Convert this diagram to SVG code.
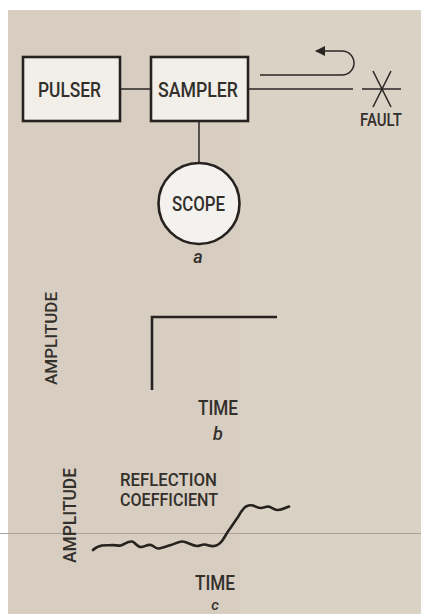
<svg xmlns="http://www.w3.org/2000/svg" width="421" height="614" viewBox="0 0 421 614">
<style>
  .t { font-family: Roboto, "Liberation Sans", sans-serif; font-weight: 500; fill: #33302c; }
  .box { fill: #f2efe9; stroke: #26221f; stroke-width: 2.6; }
  .ln { fill: none; stroke: #2a2623; stroke-width: 1.5; }
  .thick { fill: none; stroke: #26221f; stroke-width: 2.6; }
  .it { font-family: Roboto, "Liberation Sans", sans-serif; font-weight: 500; font-style: italic; fill: #33302c; }
</style>
<defs>
  <marker id="ah" viewBox="0 0 10 10" refX="9" refY="5" markerWidth="10" markerHeight="10" markerUnits="userSpaceOnUse" orient="auto">
    <path d="M0,0 L10,5 L0,10 Z" fill="#2a2623"/>
  </marker>
</defs>
<rect x="0" y="0" width="421" height="614" fill="#ffffff"/>
<rect x="8" y="10" width="413" height="604" fill="#d7cdc0"/>
<rect x="240" y="10" width="181" height="604" fill="#dbd2c6"/>
<line x1="0" y1="533.5" x2="421" y2="533.5" stroke="#a9a298" stroke-width="1.2"/>

<g id="connectors">
  <line class="ln" x1="120" y1="89" x2="151" y2="89"/>
  <line class="ln" x1="248" y1="89" x2="353" y2="89"/>
  <line class="ln" x1="199" y1="121" x2="199" y2="163"/>
  <path class="ln" d="M260,75 H342 A12,12 0 0 0 342,51 H316" marker-end="url(#ah)"/>
</g>

<g id="pulser">
  <rect class="box" x="23" y="57" width="97" height="64"/>
  <text class="t" x="69.5" y="97" font-size="21" text-anchor="middle" textLength="63" lengthAdjust="spacingAndGlyphs">PULSER</text>
</g>
<g id="sampler">
  <rect class="box" x="151" y="57" width="97" height="64"/>
  <text class="t" x="198" y="97" font-size="21" text-anchor="middle" textLength="80" lengthAdjust="spacingAndGlyphs">SAMPLER</text>
</g>
<g id="scope">
  <circle cx="199" cy="203.5" r="40.5" fill="#f4f2ee" stroke="#26221f" stroke-width="2.6"/>
  <text class="t" x="198.5" y="210.5" font-size="20" text-anchor="middle" textLength="53" lengthAdjust="spacingAndGlyphs">SCOPE</text>
  <text class="it" x="198" y="263" font-size="18" text-anchor="middle">a</text>
</g>
<g id="fault">
  <line class="ln" x1="362" y1="89" x2="401" y2="89" stroke-width="1.2"/>
  <line class="ln" x1="373" y1="71" x2="391" y2="107" stroke-width="1.2"/>
  <line class="ln" x1="391" y1="71" x2="373" y2="107" stroke-width="1.2"/>
  <text class="t" x="381" y="126" font-size="18" text-anchor="middle" textLength="42" lengthAdjust="spacingAndGlyphs">FAULT</text>
</g>

<g id="graph-b">
  <text class="t" transform="translate(57,338.5) rotate(-90)" font-size="17" text-anchor="middle" textLength="93" lengthAdjust="spacingAndGlyphs">AMPLITUDE</text>
  <path class="thick" d="M152,390 V317 H277"/>
  <text class="t" x="218" y="415" font-size="20" text-anchor="middle" textLength="40" lengthAdjust="spacingAndGlyphs">TIME</text>
  <text class="it" x="218" y="440" font-size="18" text-anchor="middle">b</text>
</g>

<g id="graph-c">
  <text class="t" transform="translate(76,515.5) rotate(-90)" font-size="18" text-anchor="middle" textLength="95" lengthAdjust="spacingAndGlyphs">AMPLITUDE</text>
  <text class="t" x="168.5" y="486" font-size="18" text-anchor="middle" textLength="97" lengthAdjust="spacingAndGlyphs">REFLECTION</text>
  <text class="t" x="169" y="506" font-size="18" text-anchor="middle" textLength="98" lengthAdjust="spacingAndGlyphs">COEFFICIENT</text>
  <path class="thick" stroke-width="2.2" stroke-linejoin="round" stroke-linecap="round" d="M93,550 C96,547 99,546 102,545.5 C106,545 108,545.5 112,545 C116,545 118,546 121,545.5 C125,544 128,541 132,541.5 C135,542 137,547 141,547 C145,547 147,544 151,545 C154,546 156,549 159,548.5 C163,548 167,546 171,545 C175,544 179,541 183,541.5 C188,542 192,546 197,546 C200,546 202,544 205,544.5 C208,545 210,546.5 214,546 C218,545.5 220,543.5 222,541 C225,537 226,534 229,530 C232,526 235,521 238,517 C241,512 243,508 246,506.5 C249,505 251,505 253,505.5 C256,506.5 258,508 261,508 C264,508 265,506.5 268,506.5 C272,507 274,510 278,510 C282,510 285,508 289,506.5"/>
  <text class="t" x="215" y="590" font-size="20" text-anchor="middle" textLength="40" lengthAdjust="spacingAndGlyphs">TIME</text>
  <text class="it" x="215" y="610" font-size="15" text-anchor="middle">c</text>
</g>
</svg>
